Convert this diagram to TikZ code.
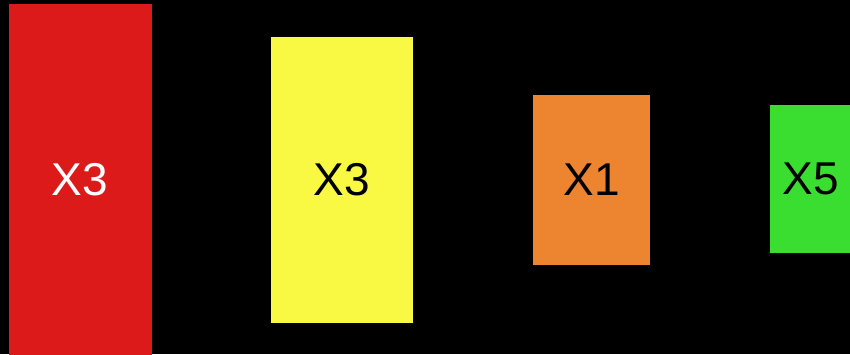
\documentclass[tikz,border=0pt]{standalone}
\usepackage{fontspec}
\setmainfont{Liberation Sans}
\usetikzlibrary{positioning}
\definecolor{barred}{RGB}{220,26,26}
\definecolor{baryellow}{RGB}{249,248,66}
\definecolor{barorange}{RGB}{236,132,48}
\definecolor{bargreen}{RGB}{58,222,48}
\tikzset{bar/.style={draw=none,inner sep=0pt,font=\fontsize{46}{46}\selectfont}}

\begin{document}
\begin{tikzpicture}[x=1pt,y=-1pt]
\fill[black] (0,0) rectangle (850,354);
\clip (0,0) rectangle (850,354);
\node[bar,fill=barred,text=white,minimum width=143pt,minimum height=352pt] (R) at (80,180) {X3};
\node[bar,fill=baryellow,minimum width=142pt,minimum height=286pt] (Y) at (342,180) {X3};
\node[bar,fill=barorange,minimum width=117pt,minimum height=170pt] (O) at (591.5,180) {X1};
\node[bar,fill=bargreen,minimum width=82pt,minimum height=148pt] (G) at (811,179) {X5};
\end{tikzpicture}
\end{document}
